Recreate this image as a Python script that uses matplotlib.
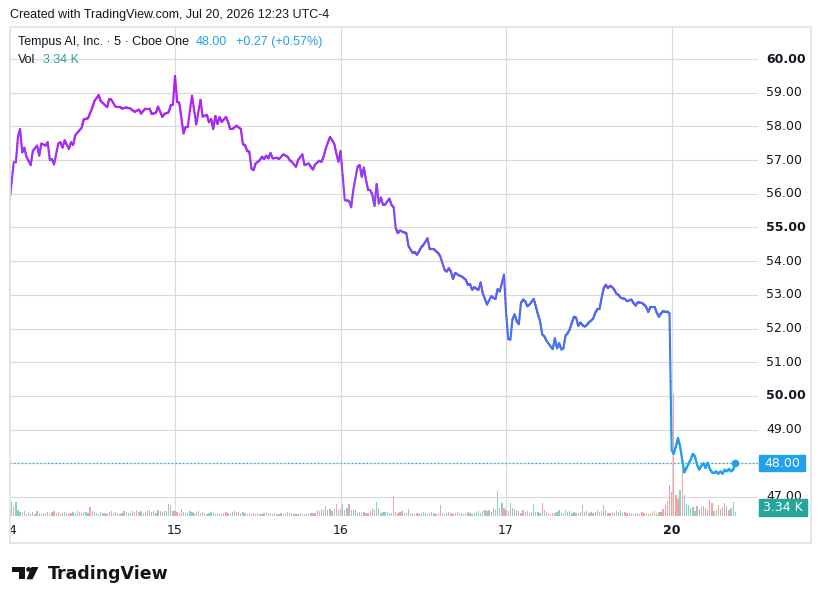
import numpy as np
import matplotlib
matplotlib.use("Agg")
import matplotlib.pyplot as plt
from matplotlib.collections import LineCollection
from matplotlib.colors import LinearSegmentedColormap, Normalize
from matplotlib.patches import Rectangle, Circle, Polygon
from matplotlib.transforms import blended_transform_factory

plt.rcParams["font.family"] = ["DejaVu Sans"]

# ---------- data: 5-min bars, index counted from the first bar on the 14th ----------
day_labels = ["14", "15", "16", "17", "20"]
day_start = [0, 78, 156, 234, 312]

bars_14 = [0, 2, 3, 4, 5, 6, 7, 8, 10, 11, 13, 14, 15, 17, 18, 19, 20, 21, 23, 24, 25, 26, 28, 29, 30, 31,
           34, 35, 37, 39, 40, 42, 43, 46, 47, 48, 50, 52, 53, 55, 57, 59, 61, 62, 64, 66, 67, 69, 70, 72,
           73, 75, 76, 77]
close_14 = [55.75, 56.93, 56.93, 57.69, 57.92, 57.23, 57.37, 57.10, 56.85, 57.27, 57.43, 57.13, 57.49,
            57.43, 57.53, 57.00, 57.03, 56.87, 57.49, 57.53, 57.37, 57.59, 57.33, 57.53, 57.45, 57.74,
            57.96, 58.21, 58.24, 58.55, 58.75, 58.93, 58.75, 58.57, 58.81, 58.79, 58.58, 58.58, 58.53,
            58.56, 58.53, 58.43, 58.50, 58.38, 58.53, 58.53, 58.37, 58.40, 58.59, 58.28, 58.37, 58.42,
            58.63, 58.64]

bars_15 = [78, 79, 80, 81, 82, 83, 84, 86, 88, 90, 91, 93, 94, 95, 96, 97, 98, 99, 100, 102, 103, 104,
           105, 107, 109, 110, 111, 112, 113, 114, 115, 116, 118, 119, 120, 121, 122, 123, 124, 126, 127,
           129, 131, 132, 133, 135, 136, 138, 139, 141, 142, 143, 144, 146, 147, 148, 149, 151, 153, 154,
           155]
close_15 = [59.50, 58.73, 58.70, 58.24, 57.79, 57.99, 57.99, 58.91, 58.06, 58.79, 58.29, 58.34, 58.12,
            58.22, 57.92, 58.31, 58.07, 58.28, 58.13, 58.28, 58.13, 57.92, 57.92, 58.02, 57.92, 57.47,
            57.44, 57.27, 57.25, 56.75, 56.70, 56.90, 57.00, 57.10, 57.03, 57.13, 57.05, 57.21, 57.05,
            57.07, 57.03, 57.17, 57.10, 57.00, 56.95, 56.80, 57.00, 57.17, 56.85, 56.90, 56.80, 56.72,
            56.87, 56.98, 56.95, 57.10, 57.34, 57.69, 57.49, 57.20, 56.95]

bars_16 = [156, 158, 160, 161, 162, 164, 165, 166, 167, 168, 169, 170, 171, 172, 173, 174, 175, 176, 177,
           179, 180, 181, 182, 183, 184, 186, 187, 188, 190, 191, 192, 193, 194, 195, 197, 198, 200, 202,
           203, 205, 206, 207, 208, 209, 210, 212, 213, 215, 216, 217, 218, 219, 220, 221, 222, 223, 225,
           227, 228, 229, 230, 231, 233]
close_16 = [57.27, 55.81, 55.79, 55.60, 56.11, 56.80, 56.85, 56.50, 56.78, 56.40, 56.11, 56.11, 55.96,
            55.64, 56.29, 55.71, 55.89, 55.67, 55.68, 55.86, 55.67, 55.60, 54.98, 54.83, 54.91, 54.85,
            54.83, 54.45, 54.24, 54.27, 54.19, 54.29, 54.41, 54.48, 54.68, 54.35, 54.35, 54.24, 54.14,
            53.74, 53.69, 53.79, 53.69, 53.47, 53.65, 53.57, 53.55, 53.45, 53.30, 53.32, 53.15, 53.23,
            53.18, 53.15, 53.37, 53.05, 52.71, 52.96, 52.91, 52.88, 53.17, 53.10, 53.60]

bars_17 = [234, 235, 236, 237, 238, 239, 240, 241, 242, 243, 244, 245, 247, 248, 249, 250, 251, 252, 253,
           255, 256, 257, 258, 259, 260, 261, 262, 263, 264, 265, 266, 267, 268, 269, 270, 271, 272, 273,
           275, 276, 277, 278, 279, 280, 281, 282, 283, 284, 285, 286, 287, 288, 290, 291, 293, 294, 295,
           296, 298, 299, 300, 301, 302, 304, 305, 306, 307, 308, 309, 310, 311]
close_17 = [52.47, 51.69, 51.67, 52.27, 52.42, 52.22, 52.13, 52.76, 52.86, 52.81, 52.66, 52.71, 52.88,
            52.66, 52.42, 52.22, 51.83, 51.77, 51.64, 51.47, 51.39, 51.71, 51.41, 51.57, 51.38, 51.41,
            51.79, 51.86, 51.98, 52.18, 52.35, 52.32, 52.08, 52.18, 52.10, 52.06, 52.10, 52.18, 52.29,
            52.47, 52.57, 52.57, 52.91, 53.20, 53.30, 53.20, 53.27, 53.23, 53.15, 53.03, 53.00, 52.91,
            52.88, 52.81, 52.86, 52.76, 52.68, 52.78, 52.76, 52.71, 52.64, 52.49, 52.64, 52.64, 52.47,
            52.35, 52.45, 52.52, 52.49, 52.50, 52.45]

close_20 = [48.40, 48.28, 48.50, 48.75, 48.50, 48.10, 47.73, 47.86, 47.99, 48.12, 48.28, 48.20, 47.96,
            47.81, 47.93, 48.00, 47.86, 48.02, 47.83, 47.73, 47.71, 47.76, 47.69, 47.76, 47.69, 47.81,
            47.76, 47.83, 47.76, 47.81, 48.00]
bars_20 = list(range(312, 312 + len(close_20)))

# volume in thousands, u = up bar, d = down bar
vol_14 = [5.0, 11.7, 8.4, 11.7, 5.0, 3.3, 2.5, 4.2, 1.7, 3.3, 2.5, 3.3, 1.7, 4.2, 2.5, 1.7, 2.5, 2.5, 3.3,
          1.7, 3.3, 4.2, 2.5, 3.3, 1.7, 2.5, 3.3, 2.5, 1.7, 2.5, 3.3, 2.5, 4.2, 3.3, 2.5, 3.3, 3.3, 2.5,
          7.5, 4.2, 3.3, 2.5, 1.7, 3.3, 2.5, 2.5, 1.7, 3.3, 4.2, 2.5, 3.3, 2.5, 1.7, 2.5, 4.2, 3.3, 2.5,
          2.5, 4.2, 3.3, 5.0, 3.3, 4.2, 2.5, 3.3, 4.2, 5.0, 3.3, 4.2, 2.5, 5.0, 4.2, 3.3, 4.2, 4.2, 10.0,
          9.2, 4.2]
dir_14 = ("uuduuudu" "ddudduud" "uduuddud" "uduudduu" "udduuudd" "uuduuddu" "duudduud" "uuddudud"
          "dduuddud" "uuuudu")

vol_15 = [4.2, 3.3, 2.5, 5.9, 3.3, 2.5, 3.3, 4.2, 3.3, 2.5, 3.3, 4.2, 2.5, 3.3, 2.5, 1.7, 2.5, 3.3, 2.5,
          1.7, 2.5, 1.7, 1.7, 2.5, 3.3, 2.5, 2.5, 3.3, 4.2, 3.3, 3.3, 2.5, 3.3, 2.5, 1.7, 2.5, 1.7, 2.5,
          1.7, 2.5, 1.7, 1.7, 2.5, 3.3, 2.5, 2.5, 1.7, 2.5, 1.7, 1.7, 2.5, 1.7, 2.5, 3.3, 2.5, 2.5, 1.7,
          1.7, 1.7, 2.5, 1.7, 1.7, 1.7, 1.7, 2.5, 2.5, 2.5, 5.0, 4.2, 5.9, 5.0, 8.4, 5.0, 5.9, 4.2, 5.9,
          10.0, 5.0]
dir_15 = ("ddduuduu" "ududduud" "uuudduud" "dduududu" "uduudduu" "duduudud" "uuduuddu" "uudduuuu"
          "dduddduu" "ududdu")

vol_16 = [5.9, 10.0, 5.0, 6.7, 10.0, 5.0, 5.0, 5.0, 2.5, 3.3, 2.5, 3.3, 2.5, 2.5, 4.2, 6.7, 5.0, 11.7,
          6.7, 2.5, 3.3, 3.3, 3.3, 2.5, 2.5, 16.7, 3.3, 2.5, 3.3, 4.2, 2.5, 2.5, 5.9, 2.5, 2.5, 1.7, 2.5,
          1.7, 2.5, 3.3, 2.5, 1.7, 2.5, 3.3, 2.5, 1.7, 2.5, 9.0, 2.5, 1.7, 2.5, 3.3, 2.5, 1.7, 2.5, 3.3,
          2.5, 2.5, 1.7, 2.5, 3.3, 2.5, 1.7, 2.5, 3.3, 4.2, 2.5, 4.2, 5.0, 4.2, 5.0, 3.3, 6.7, 5.0, 21.0,
          6.7, 10.9, 6.7]
dir_16 = ("dududuuu" "uduudddd" "uuuduuuu" "ddudduud" "uduududu" "udududdd" "duudduud" "uduuduuu"
          "uuduuduu" "duuuud")

vol_17 = [5.0, 4.2, 10.9, 6.7, 5.9, 5.0, 4.2, 2.5, 5.0, 3.3, 4.2, 2.5, 3.3, 10.0, 3.3, 3.3, 2.5, 10.9,
          5.0, 3.3, 2.5, 1.7, 2.5, 2.5, 3.3, 5.0, 2.5, 2.5, 5.0, 3.3, 4.2, 2.5, 3.3, 2.5, 2.5, 3.3, 9.2,
          3.3, 4.2, 2.5, 3.3, 2.5, 3.3, 5.0, 3.3, 4.2, 9.2, 5.0, 2.5, 2.5, 3.3, 2.5, 4.2, 3.3, 5.0, 2.5,
          3.3, 2.5, 2.5, 2.5, 1.7, 2.5, 2.5, 1.7, 3.3, 2.5, 2.5, 1.7, 2.5, 3.3, 4.2, 2.5, 3.3, 3.3, 5.9,
          9.0, 12.5, 25.6]
dir_17 = ("duuuduud" "duduuudu" "uddududd" "uuuduuud" "uuddudud" "uduuuddu" "ddudduuu" "ddudduud"
          "ddduuddd" "udddd" "d")

vol_20 = [20.0, 101.6, 17.3, 13.9, 21.5, 45.1, 17.3, 10.3, 8.9, 6.9, 7.5, 4.2, 8.1, 6.1, 7.5, 8.1, 6.9,
          5.3, 13.1, 10.9, 3.9, 5.3, 8.9, 6.1, 7.5, 10.9, 8.4, 5.0, 6.7, 11.7, 3.34]
dir_20 = "dddd" "udu" "uuuuu" "duu" "ddddd" "uu" "du" "dd" "udu" "uu"

price_ticks = list(range(47, 61))
major_ticks = [50, 55, 60]

title_line = "Created with TradingView.com, Jul 20, 2026 12:23 UTC-4"
symbol_text = "Tempus AI, Inc. · 5 · Cboe One"
last_text = "48.00"
change_text = "+0.27 (+0.57%)"
vol_text = "3.34 K"

# ---------- assemble ----------
bars = np.array(bars_14 + bars_15 + bars_16 + bars_17 + bars_20, dtype=float)
close = np.array(close_14 + close_15 + close_16 + close_17 + close_20)
vol = np.array(vol_14 + vol_15 + vol_16 + vol_17 + vol_20)
dirs = dir_14 + dir_15 + dir_16 + dir_17 + dir_20
vol_idx = np.arange(len(vol))
vol_col = [("#8ccfc8" if c == "u" else "#f5a3a0") for c in dirs]

GRID = "#dadada"
TXT = "#131722"
BLUE = "#22a0ea"
TEAL = "#26a69a"
UI_FONT = ["Liberation Sans", "DejaVu Sans"]
UI_SIZE = 9.0

W, H = 822, 604
fig = plt.figure(figsize=(W / 100, H / 100), dpi=100)


def fx(px):
    return px / W


def fy(py):
    return 1 - py / H


rect = [fx(10), fy(516), fx(758) - fx(10), fy(27) - fy(516)]
xlim = (0.24, 352.7)
ylim = (46.436, 60.95)

# grid layer
axg = fig.add_axes(rect)
axg.set_xlim(*xlim)
axg.set_ylim(*ylim)
axg.axis("off")
for p in price_ticks:
    axg.axhline(p, color=GRID, lw=0.8)
for d in day_start[1:]:
    axg.axvline(d, color=GRID, lw=0.8)

# volume layer
axv = fig.add_axes(rect)
axv.set_xlim(*xlim)
axv.set_ylim(0, vol.max() * 4.0)
axv.axis("off")
axv.bar(vol_idx, vol, width=0.62, color=vol_col[:len(vol)], linewidth=0)

# price layer
ax = fig.add_axes(rect)
ax.set_xlim(*xlim)
ax.set_ylim(*ylim)
ax.axis("off")

cmap = LinearSegmentedColormap.from_list(
    "tv", [(0.0, "#1aa6ee"), (0.18, "#2f8ff0"), (0.40, "#4f6cf1"), (0.53, "#6a57f3"),
           (0.70, "#9040f5"), (0.87, "#aa28f6"), (1.0, "#b41cf6")])
norm = Normalize(47.7, 59.5)

segs, cols = [], []
for i in range(len(bars) - 1):
    t = np.linspace(0, 1, 9)
    sx = bars[i] + (bars[i + 1] - bars[i]) * t
    sy = close[i] + (close[i + 1] - close[i]) * t
    for k in range(len(t) - 1):
        segs.append([(sx[k], sy[k]), (sx[k + 1], sy[k + 1])])
        cols.append(cmap(norm((sy[k] + sy[k + 1]) / 2)))
lc = LineCollection(segs, colors=cols, linewidths=1.5, capstyle="round", joinstyle="round")
ax.add_collection(lc)

last = close[-1]
ax.axhline(last, color=BLUE, lw=0.9, ls=(0, (1, 2)))
ax.plot(bars[-1], last, "o", color=BLUE, ms=5.5, mec="none")

# price scale (the tick under the last-price box is hidden, as on the chart)
tr = blended_transform_factory(ax.transAxes, ax.transData)
for p in price_ticks:
    if abs(p - last) < 0.3:
        continue
    ax.text(1.0107, p, f"{p:.2f}", transform=tr, ha="left", va="center", fontsize=9,
            color=TXT, fontweight="bold" if p in major_ticks else "normal", clip_on=False)
ax.add_patch(Rectangle((1.0013, last - 0.237), 0.0615, 0.475, transform=tr, color=BLUE,
                       clip_on=False, zorder=5))
ax.text(1.032, last, last_text, transform=tr, ha="center", va="center", fontsize=9,
        color="white", clip_on=False, zorder=6)
ax.add_patch(Rectangle((1.0013, 0.0), 0.064, 0.034, transform=ax.transAxes, color=TEAL,
                       clip_on=False, zorder=5))
ax.text(1.033, 0.017, vol_text, transform=ax.transAxes, ha="center", va="center", fontsize=9,
        color="white", clip_on=False, zorder=6)

# time scale
axt = fig.add_axes([fx(10), fy(543), fx(758) - fx(10), fy(516) - fy(543)])
axt.set_xlim(*xlim)
axt.set_ylim(0, 1)
axt.axis("off")
for lab, d in zip(day_labels, day_start):
    axt.text(d, 0.45, lab, ha="center", va="center", fontsize=9, color=TXT,
             fontweight="bold" if lab == "20" else "normal", clip_on=True)

# frame
fig.patches.append(Rectangle((fx(10), fy(543)), fx(811) - fx(10), fy(27) - fy(543),
                             transform=fig.transFigure, fill=False, ec="#e3e3e3", lw=1.3))

# header and legend
fig.text(fx(10), fy(15), title_line, ha="left", va="center", fontsize=UI_SIZE, color=TXT, family=UI_FONT)
fig.text(fx(18), fy(42), symbol_text, ha="left", va="center", fontsize=UI_SIZE, color=TXT, family=UI_FONT)
fig.text(fx(196), fy(42), last_text, ha="left", va="center", fontsize=UI_SIZE, color=BLUE, family=UI_FONT)
fig.text(fx(236), fy(42), change_text, ha="left", va="center", fontsize=UI_SIZE, color=BLUE, family=UI_FONT)
fig.text(fx(18), fy(60), "Vol", ha="left", va="center", fontsize=UI_SIZE, color=TXT, family=UI_FONT)
fig.text(fx(43), fy(60), vol_text, ha="left", va="center", fontsize=UI_SIZE, color=TEAL, family=UI_FONT)

# TradingView logo
px = fig.dpi_scale_trans


def P(x, y):
    return (x / 100, (H - y) / 100)


fig.patches.append(Polygon([P(12, 567), P(25.3, 567), P(25.3, 579.3), P(19.3, 579.3), P(19.3, 571.7),
                            P(12, 571.7)], closed=True, transform=px, fc="#131313", ec="none"))
fig.patches.append(Circle(P(28.6, 569.4), 0.024, transform=px, fc="#131313", ec="none"))
fig.patches.append(Polygon([P(31.5, 567), P(38.5, 567), P(32.5, 579.3), P(26.5, 579.3)], closed=True,
                           transform=px, fc="#131313", ec="none"))
fig.text(fx(48), fy(579.3), "TradingView", ha="left", va="baseline", fontsize=12.5,
         fontweight="bold", color="#131313")

fig.savefig("out.png", dpi=100)
